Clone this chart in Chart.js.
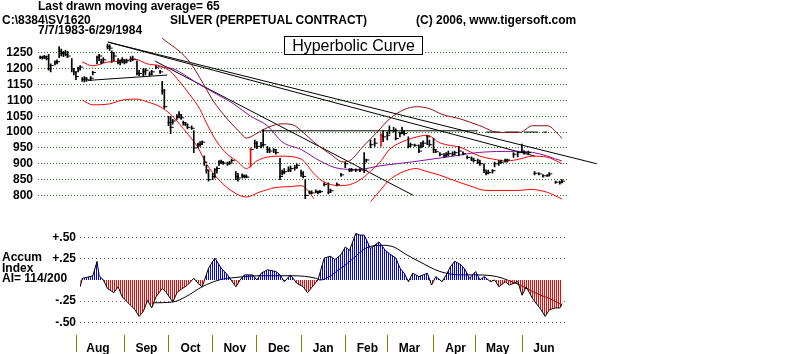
<!DOCTYPE html>
<html>
<head>
<meta charset="utf-8">
<script src="https://cdn.jsdelivr.net/npm/chart.js@4.4.1/dist/chart.umd.min.js"></script>
<style>
  body { margin:0; background:#fff; width:800px; height:354px; overflow:hidden; position:relative;
         font-family:"Liberation Sans", Arial, sans-serif; }
  canvas { position:absolute; left:0; }
  .t { position:absolute; font-weight:bold; font-size:12px; line-height:13px; white-space:nowrap; color:#000; }
  #hyp { position:absolute; left:284px; top:36px; width:137px; height:17px; border:1px solid #000; background:#fff;
         font-size:16px; line-height:17px; text-align:center; white-space:nowrap; }
</style>
</head>
<body>
<canvas id="price" width="800" height="214" style="top:0"></canvas>
<canvas id="accum" width="800" height="140" style="top:214px"></canvas>

<div class="t" style="left:38px;top:0">Last drawn moving average= 65</div>
<div class="t" style="left:2px;top:14px">C:\8384\SV1620</div>
<div class="t" style="left:170px;top:14px">SILVER (PERPETUAL CONTRACT)</div>
<div class="t" style="left:416px;top:14px">(C) 2006, www.tigersoft.com</div>
<div class="t" style="left:38px;top:24px">7/7/1983-6/29/1984</div>
<div id="hyp">Hyperbolic Curve</div>
<div class="t" style="left:2px;top:252px;line-height:11px">Accum</div>
<div class="t" style="left:2px;top:263px;line-height:11px">Index</div>
<div class="t" style="left:2px;top:273px;line-height:11px">AI= 114/200</div>

<script>
// ---- daily price bars (trading day index from 7/7/1983) ----
const barDays = [0,1,2,3,4,5,7,8,9,10,11,12,13,15,16,17,18,19,20,21,22,24,25,27,28,29,30,32,33,34,35,37,38,39,40,41,43,44,46,47,49,50,52,53,55,57,58,59,61,62,63,65,66,67,68,69,70,72,73,75,76,77,78,79,80,82,83,84,85,86,87,89,90,91,93,94,96,97,98,100,102,103,105,106,108,109,111,112,114,115,116,118,119,121,122,124,125,126,128,129,131,132,133,135,137,138,141,143,145,147,148,150,152,154,155,157,159,162,163,165,166,168,169,171,172,173,175,176,178,180,181,182,184,185,187,188,190,192,193,194,196,197,199,201,203,205,206,208,209,211,212,213,215,216,218,219,221,222,225,227,229,230,232,235,237,239,241,242,245,247,248];
const barLow  = [1232,1230,1232,1228,1195,1190,1212,1215,1235,1240,1238,1240,1235,1190,1180,1165,1190,1195,1160,1158,1160,1162,1180,1215,1225,1215,1220,1262,1258,1220,1225,1215,1212,1218,1215,1218,1222,1225,1180,1178,1175,1180,1178,1180,1200,1185,1120,1075,1020,995,1025,1040,1045,1040,1022,1020,1010,1008,935,950,955,960,895,870,845,850,855,870,895,900,898,895,898,905,850,845,855,855,855,890,950,948,950,955,935,935,935,930,850,865,868,875,875,880,885,860,855,790,805,805,808,805,808,830,805,810,830,860,888,875,876,875,875,872,905,950,955,955,970,975,995,1000,975,985,995,990,950,955,955,935,950,955,960,955,935,935,925,920,922,925,925,928,925,928,915,910,905,900,895,872,865,868,870,890,895,900,905,905,920,922,935,930,930,865,865,858,860,862,838,836,840];
const barHigh = [1240,1240,1242,1240,1245,1215,1225,1228,1270,1262,1255,1258,1255,1232,1200,1190,1205,1210,1172,1175,1172,1175,1192,1240,1245,1230,1235,1278,1275,1256,1250,1232,1228,1235,1228,1230,1238,1240,1225,1195,1200,1200,1190,1195,1210,1195,1160,1135,1050,1050,1040,1055,1065,1055,1035,1030,1025,1020,1005,965,970,972,925,895,880,870,885,890,910,912,908,905,908,915,875,870,868,865,865,950,975,970,968,1008,955,950,948,945,917,880,885,890,893,895,900,880,875,850,815,815,818,815,816,840,840,820,840,870,905,885,886,884,885,935,915,975,980,995,1005,1000,1020,1015,1010,1000,1015,1005,985,965,962,960,968,972,990,975,980,945,935,932,935,940,938,940,955,938,925,922,918,915,912,900,878,880,882,905,910,912,915,915,935,940,962,940,940,875,872,866,866,872,845,845,850];
const barClose = [1236,1235,1238,1232,1200,1210,1220,1222,1255,1248,1250,1245,1240,1200,1190,1175,1200,1205,1165,1170,1165,1170,1188,1235,1240,1220,1228,1270,1265,1250,1240,1220,1225,1228,1220,1225,1230,1230,1185,1185,1190,1195,1182,1190,1205,1190,1130,1080,1030,1015,1035,1048,1055,1045,1030,1025,1015,1012,950,960,962,968,905,880,850,860,880,885,905,905,902,900,902,910,860,855,862,860,858,945,965,955,958,960,945,940,945,935,860,872,875,880,885,888,895,870,860,800,810,808,812,810,812,835,810,815,835,865,900,880,880,880,880,880,912,960,965,990,985,990,1005,1005,980,995,1000,995,955,960,958,940,955,965,985,960,945,938,930,925,930,932,930,935,940,932,920,915,910,905,900,880,870,872,878,900,905,905,910,912,930,935,940,935,935,870,868,862,862,868,842,840,845];
const redBarDays = [100, 162];

// ---- overlay curves ----
const bandDays = [20,25,32,39,45,51,57,62,66,71,76,79,84,89,94,98,103,108,115,124,130,134,142,147,152,157,162,166,171,177,184,190,200,209,215,222,228,234,241,248];
const band = [1221,1209,1221,1224,1230,1215,1209,1191,1161,1119,1071,1029,969,930,906,885,909,921,924,915,870,846,831,834,849,876,909,945,966,981,990,966,951,924,915,909,915,924,921,900];
const lowerBandDays = [20,25,33,39,46,51,57,62,68,75,79,85,92,98,104,112,119,124,128,130];
const lowerBand = [1101,1086,1089,1101,1104,1095,1080,1056,1011,951,900,849,810,795,810,825,828,831,810,790];
const lateBandDays = [157,162,166,173,179,182,190,196,204,212,221,228,233,241,248];
const lateBand = [780,819,849,876,885,879,864,849,831,816,816,816,819,810,789];
const hyperDays = [58,70,76,82,89,95,98,103,108,115,120,125,130,138,144,147,153,160,166,173,179,185,191,200,209,218,228,234,241,248];
const hyperCurve = [1296,1230,1170,1101,1041,999,981,996,1014,1026,1023,999,969,930,906,909,951,999,1041,1071,1080,1074,1056,1041,1020,999,999,1020,1020,981];
const maDays = [56,63,76,84,92,100,108,115,124,133,142,151,162,177,193,209,225,234,248];
const ma65 = [1206,1200,1149,1119,1089,1050,1020,969,945,909,885,882,894,906,921,936,939,936,909];

// straight trend lines: [start, end]
const trendDays = [[32.2,264.6],[32.2,235.2],[54.6,177.2],[22.7,60.4],[105.5,208]];
const trendPrices = [[1284,900],[1284,924],[1224,801],[1163,1180],[1004,1004]];
const dashDays = [212, 241];
const dashPrices = [1000, 1000];

const priceTicks = [800,850,900,950,1000,1050,1100,1150,1200,1250];

// ---- accumulation index ----
const accumDays = [19,20,22,25,27,28,30,32,35,37,39,43,45,47,49,51,53,55,58,60,63,65,67,70,73,75,77,80,83,86,89,93,95,97,101,103,105,108,112,114,116,119,122,125,127,130,132,135,138,140,143,145,147,150,152,154,157,159,161,164,166,169,171,173,175,177,180,184,186,188,191,193,195,197,200,202,204,207,209,211,214,216,218,221,223,227,229,231,234,238,240,242,245,247,248];
const accum = [-0.08,0.02,0.03,0.05,0.22,0.05,0,-0.1,-0.15,-0.08,-0.2,-0.3,-0.35,-0.43,-0.37,-0.24,-0.33,-0.2,-0.1,-0.15,-0.26,-0.15,-0.11,-0.06,0.02,-0.04,-0.08,0.14,0.26,0.14,0.06,-0.08,0,0.06,0.06,0,0.08,0.12,0.1,0.06,-0.02,0.06,-0.04,-0.08,-0.15,-0.06,0,0.26,0.28,0.24,0.3,0.39,0.35,0.55,0.53,0.53,0.37,0.41,0.45,0.35,0.31,0.26,0.14,0.08,-0.02,0.08,0.04,0.08,-0.06,0.04,-0.02,0.06,0.16,0.22,0.18,0.12,0.02,0.1,0,0.04,-0.02,0,-0.08,-0.02,-0.06,-0.02,-0.18,-0.08,-0.22,-0.35,-0.43,-0.35,-0.33,-0.33,-0.28];
const accumMaDays = [53,63,69,77,85,93,105,120,131,133,143,149,155,163,168,174,180,190,200,208,217,222,228,236,244,248];
const accumMa = [-0.27,-0.26,-0.2,-0.08,0,0.03,0.05,0.05,0.02,0,0.14,0.26,0.38,0.41,0.39,0.3,0.22,0.1,0.06,0.06,0.04,0,-0.06,-0.16,-0.24,-0.3];
const accumTicks = [0.5, 0.25, -0.25, -0.5];
const accumTickLabels = ['+.50', '+.25', '-.25', '-.50'];

const monthStarts = [17,40,61,82,103,124,145,165,187,207,229];
const monthNames = ['Aug','Sep','Oct','Nov','Dec','Jan','Feb','Mar','Apr','May','Jun'];

const pts = (xs, ys) => xs.map((x, i) => ({x: x, y: ys[i]}));
const boldFont = {family: 'Liberation Sans, Arial, sans-serif', size: 12, weight: 'bold'};

function stripes(color) {
  const c = document.createElement('canvas');
  c.width = 2; c.height = 2;
  const g = c.getContext('2d');
  g.fillStyle = color;
  g.fillRect(0, 0, 1, 2);
  return g.createPattern(c, 'repeat');
}

function curve(data, color) {
  return {type: 'line', data: data, borderColor: color, borderWidth: 1, pointRadius: 0,
          cubicInterpolationMode: 'monotone', fill: false, order: 2};
}

const priceSets = [
  {type: 'bar', data: barDays.map((d, i) => ({x: d, y: [barLow[i], barHigh[i]]})),
   backgroundColor: ctx => redBarDays.includes(barDays[ctx.dataIndex]) ? '#ff0000' : '#000',
   barThickness: 1, grouped: false, order: 0},
  {type: 'line', data: pts(barDays.map(d => d + 0.5), barClose), showLine: false,
   pointStyle: 'line', pointRadius: 2, pointBorderWidth: 1, pointBorderColor: '#000', order: 0},
  curve(pts(bandDays, band), '#ff0000'),
  curve(pts(lowerBandDays, lowerBand), '#ff0000'),
  curve(pts(lateBandDays, lateBand), '#ff0000'),
  curve(pts(hyperDays, hyperCurve), '#8b1010'),
  curve(pts(maDays, ma65), '#8a10a0'),
  {type: 'line', data: pts(dashDays, dashPrices), borderColor: '#000', borderWidth: 1,
   borderDash: [14, 5], pointRadius: 0, order: 2}
];
trendDays.forEach((d, i) => {
  priceSets.push({type: 'line', data: pts(d, trendPrices[i]), borderColor: '#000', borderWidth: 1,
                  pointRadius: 0, clip: false, order: 3});
});

new Chart(document.getElementById('price'), {
  type: 'bar',
  data: {datasets: priceSets},
  options: {
    responsive: false, animation: false, devicePixelRatio: 1,
    layout: {padding: {left: 0, right: 232, top: 37, bottom: 3.7}},
    plugins: {legend: {display: false}, tooltip: {enabled: false}},
    scales: {
      x: {type: 'linear', display: false, min: -1.05, max: 250.9, offset: false, grid: {offset: false}},
      y: {
        min: 780, max: 1300,
        afterFit: s => { s.width = 38; },
        afterBuildTicks: s => { s.ticks = priceTicks.map(v => ({value: v})); },
        ticks: {callback: v => String(v), color: '#000', font: boldFont, padding: 5},
        grid: {color: '#1f7a1f', drawTicks: false, lineWidth: 1},
        border: {display: false, dash: [1, 2]}
      }
    }
  }
});

new Chart(document.getElementById('accum'), {
  type: 'line',
  data: {datasets: [
    {data: pts(accumDays, accum), borderColor: '#000', borderWidth: 1, pointRadius: 0,
     fill: {target: 'origin', above: stripes('#0000ff'), below: stripes('#ff0000')}},
    {data: pts(accumMaDays, accumMa), borderColor: '#000', borderWidth: 1, pointRadius: 0,
     cubicInterpolationMode: 'monotone', fill: false}
  ]},
  options: {
    responsive: false, animation: false, devicePixelRatio: 1,
    layout: {padding: {left: 0, right: 234, top: 15.2, bottom: 0}},
    plugins: {legend: {display: false}, tooltip: {enabled: false}},
    scales: {
      x: {
        type: 'linear', min: 18.9, max: 249.9, offset: false,
        afterFit: s => { s.height = 19; },
        afterBuildTicks: s => { s.ticks = monthStarts.map(v => ({value: v})); },
        ticks: {callback: (v, i) => monthNames[i], color: '#000', font: boldFont,
                autoSkip: false, maxRotation: 0, labelOffset: 22, padding: -11},
        grid: {drawOnChartArea: false, drawTicks: true, tickLength: 17, color: '#808000'},
        border: {display: false}
      },
      y: {
        min: -0.65, max: 0.6,
        afterFit: s => { s.width = 80; },
        afterBuildTicks: s => { s.ticks = accumTicks.map(v => ({value: v})); },
        ticks: {callback: (v) => accumTickLabels[accumTicks.indexOf(v)], color: '#000', font: boldFont, padding: 4},
        grid: {color: ctx => ctx.tick && ctx.tick.value === -0.25 ? '#b04848' : '#555', drawTicks: false},
        border: {display: false, dash: [1, 3]}
      }
    }
  }
});
</script>
</body>
</html>
